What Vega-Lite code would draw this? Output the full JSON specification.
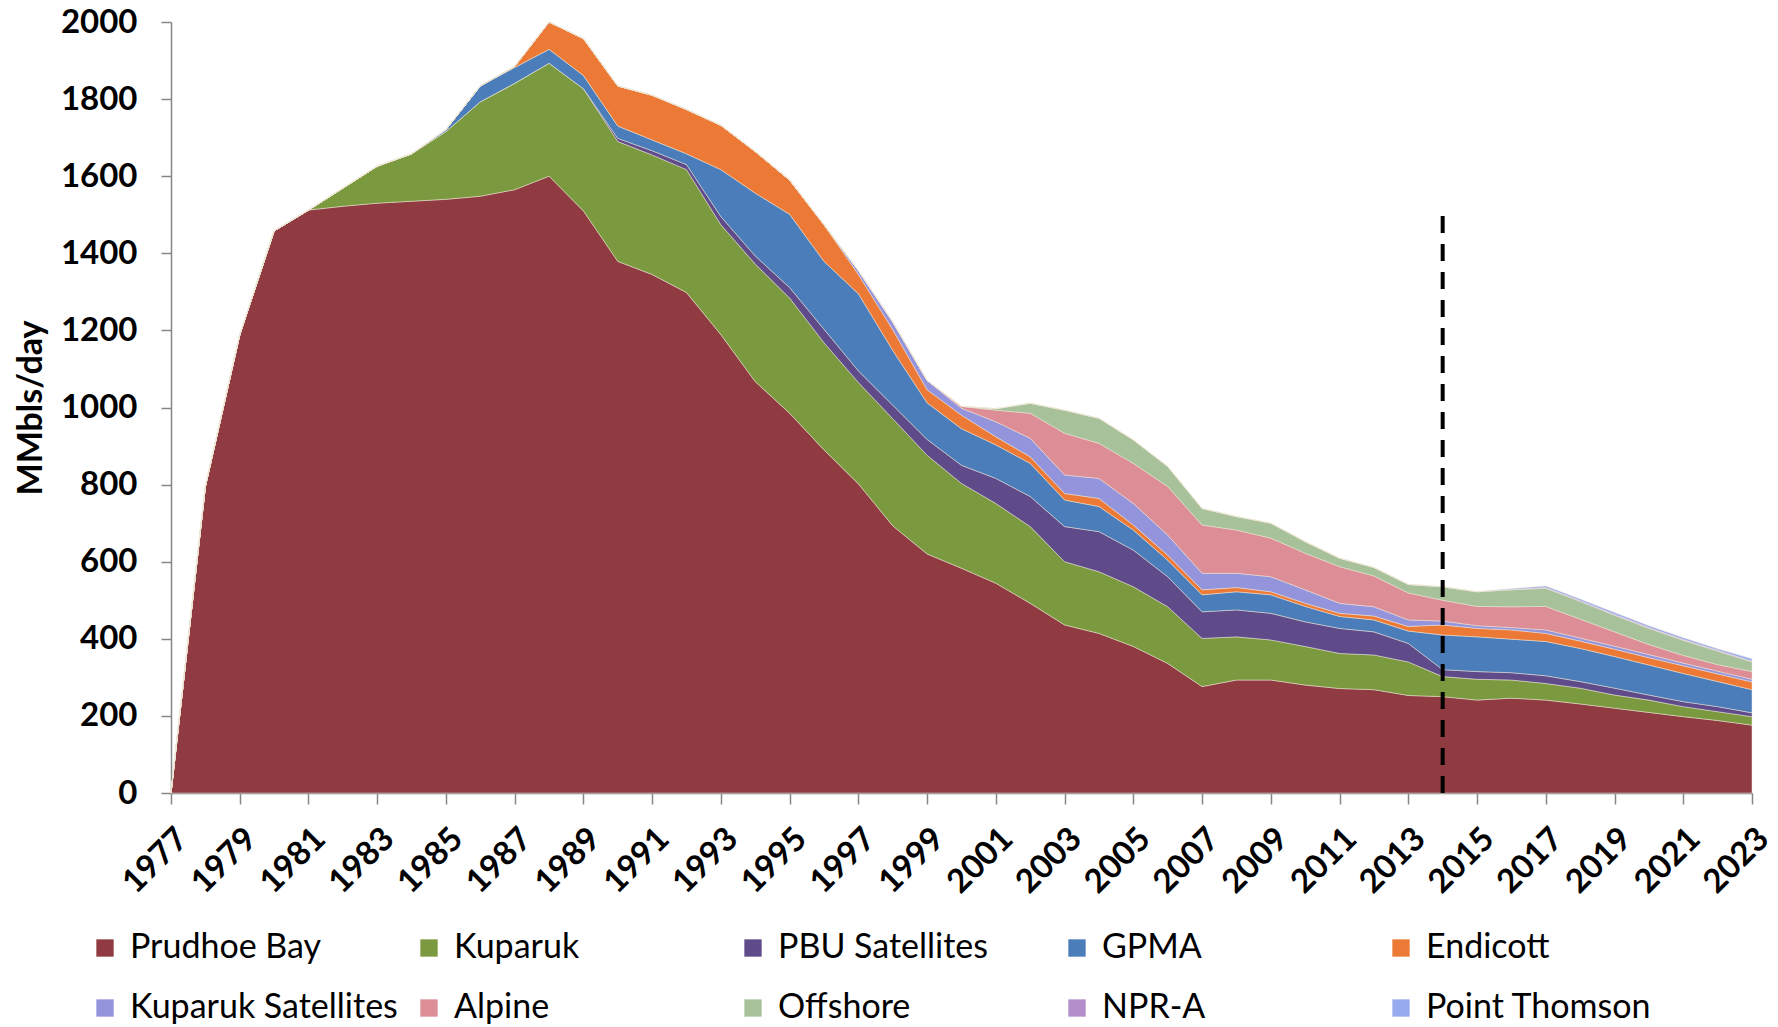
{
"$schema": "https://vega.github.io/schema/vega-lite/v6.json",
"width": 1581, "height": 771,
"autosize": {"type": "none"},
"padding": {"left": 171, "top": 22, "right": 26, "bottom": 234},
"background": "white",
"config": {"font": "Lato", "view": {"stroke": null}},
"datasets": {
"order": [{"field":"Prudhoe Bay","n":1},{"field":"Kuparuk","n":2},{"field":"PBU Satellites","n":3},{"field":"GPMA","n":4},{"field":"Endicott","n":5},{"field":"Kuparuk Satellites","n":6},{"field":"Alpine","n":7},{"field":"Offshore","n":8},{"field":"NPR-A","n":9},{"field":"Point Thomson","n":10}],
"prod": [
{"year":1977,"field":"Prudhoe Bay","bpd":0},{"year":1978,"field":"Prudhoe Bay","bpd":795},{"year":1979,"field":"Prudhoe Bay","bpd":1188},{"year":1980,"field":"Prudhoe Bay","bpd":1458},{"year":1981,"field":"Prudhoe Bay","bpd":1512},{"year":1982,"field":"Prudhoe Bay","bpd":1522},{"year":1983,"field":"Prudhoe Bay","bpd":1530},{"year":1984,"field":"Prudhoe Bay","bpd":1535},{"year":1985,"field":"Prudhoe Bay","bpd":1540},{"year":1986,"field":"Prudhoe Bay","bpd":1548},
{"year":1987,"field":"Prudhoe Bay","bpd":1565},{"year":1988,"field":"Prudhoe Bay","bpd":1600},{"year":1989,"field":"Prudhoe Bay","bpd":1510},{"year":1990,"field":"Prudhoe Bay","bpd":1379},{"year":1991,"field":"Prudhoe Bay","bpd":1345},{"year":1992,"field":"Prudhoe Bay","bpd":1298},{"year":1993,"field":"Prudhoe Bay","bpd":1189},{"year":1994,"field":"Prudhoe Bay","bpd":1067},{"year":1995,"field":"Prudhoe Bay","bpd":985},{"year":1996,"field":"Prudhoe Bay","bpd":890},
{"year":1997,"field":"Prudhoe Bay","bpd":802},{"year":1998,"field":"Prudhoe Bay","bpd":693},{"year":1999,"field":"Prudhoe Bay","bpd":620},{"year":2000,"field":"Prudhoe Bay","bpd":583},{"year":2001,"field":"Prudhoe Bay","bpd":544},{"year":2002,"field":"Prudhoe Bay","bpd":492},{"year":2003,"field":"Prudhoe Bay","bpd":436},{"year":2004,"field":"Prudhoe Bay","bpd":414},{"year":2005,"field":"Prudhoe Bay","bpd":380},{"year":2006,"field":"Prudhoe Bay","bpd":336},
{"year":2007,"field":"Prudhoe Bay","bpd":276},{"year":2008,"field":"Prudhoe Bay","bpd":293},{"year":2009,"field":"Prudhoe Bay","bpd":293},{"year":2010,"field":"Prudhoe Bay","bpd":280},{"year":2011,"field":"Prudhoe Bay","bpd":271},{"year":2012,"field":"Prudhoe Bay","bpd":268},{"year":2013,"field":"Prudhoe Bay","bpd":253},{"year":2014,"field":"Prudhoe Bay","bpd":250},{"year":2015,"field":"Prudhoe Bay","bpd":241},{"year":2016,"field":"Prudhoe Bay","bpd":246},
{"year":2017,"field":"Prudhoe Bay","bpd":241},{"year":2018,"field":"Prudhoe Bay","bpd":231},{"year":2019,"field":"Prudhoe Bay","bpd":220},{"year":2020,"field":"Prudhoe Bay","bpd":209},{"year":2021,"field":"Prudhoe Bay","bpd":198},{"year":2022,"field":"Prudhoe Bay","bpd":188},{"year":2023,"field":"Prudhoe Bay","bpd":176},

{"year":1977,"field":"Kuparuk","bpd":0},{"year":1978,"field":"Kuparuk","bpd":0},{"year":1979,"field":"Kuparuk","bpd":0},{"year":1980,"field":"Kuparuk","bpd":0},{"year":1981,"field":"Kuparuk","bpd":0},{"year":1982,"field":"Kuparuk","bpd":47},{"year":1983,"field":"Kuparuk","bpd":96},{"year":1984,"field":"Kuparuk","bpd":123},{"year":1985,"field":"Kuparuk","bpd":176},{"year":1986,"field":"Kuparuk","bpd":245},
{"year":1987,"field":"Kuparuk","bpd":276},{"year":1988,"field":"Kuparuk","bpd":293},{"year":1989,"field":"Kuparuk","bpd":317},{"year":1990,"field":"Kuparuk","bpd":311},{"year":1991,"field":"Kuparuk","bpd":310},{"year":1992,"field":"Kuparuk","bpd":319},{"year":1993,"field":"Kuparuk","bpd":285},{"year":1994,"field":"Kuparuk","bpd":305},{"year":1995,"field":"Kuparuk","bpd":299},{"year":1996,"field":"Kuparuk","bpd":278},
{"year":1997,"field":"Kuparuk","bpd":263},{"year":1998,"field":"Kuparuk","bpd":278},{"year":1999,"field":"Kuparuk","bpd":256},{"year":2000,"field":"Kuparuk","bpd":220},{"year":2001,"field":"Kuparuk","bpd":207},{"year":2002,"field":"Kuparuk","bpd":199},{"year":2003,"field":"Kuparuk","bpd":164},{"year":2004,"field":"Kuparuk","bpd":160},{"year":2005,"field":"Kuparuk","bpd":155},{"year":2006,"field":"Kuparuk","bpd":147},
{"year":2007,"field":"Kuparuk","bpd":125},{"year":2008,"field":"Kuparuk","bpd":112},{"year":2009,"field":"Kuparuk","bpd":104},{"year":2010,"field":"Kuparuk","bpd":100},{"year":2011,"field":"Kuparuk","bpd":91},{"year":2012,"field":"Kuparuk","bpd":90},{"year":2013,"field":"Kuparuk","bpd":87},{"year":2014,"field":"Kuparuk","bpd":52},{"year":2015,"field":"Kuparuk","bpd":54},{"year":2016,"field":"Kuparuk","bpd":47},
{"year":2017,"field":"Kuparuk","bpd":43},{"year":2018,"field":"Kuparuk","bpd":41},{"year":2019,"field":"Kuparuk","bpd":34},{"year":2020,"field":"Kuparuk","bpd":32},{"year":2021,"field":"Kuparuk","bpd":26},{"year":2022,"field":"Kuparuk","bpd":23},{"year":2023,"field":"Kuparuk","bpd":22},

{"year":1977,"field":"PBU Satellites","bpd":0},{"year":1978,"field":"PBU Satellites","bpd":0},{"year":1979,"field":"PBU Satellites","bpd":0},{"year":1980,"field":"PBU Satellites","bpd":0},{"year":1981,"field":"PBU Satellites","bpd":0},{"year":1982,"field":"PBU Satellites","bpd":0},{"year":1983,"field":"PBU Satellites","bpd":0},{"year":1984,"field":"PBU Satellites","bpd":0},{"year":1985,"field":"PBU Satellites","bpd":0},{"year":1986,"field":"PBU Satellites","bpd":0},
{"year":1987,"field":"PBU Satellites","bpd":0},{"year":1988,"field":"PBU Satellites","bpd":0},{"year":1989,"field":"PBU Satellites","bpd":0},{"year":1990,"field":"PBU Satellites","bpd":8},{"year":1991,"field":"PBU Satellites","bpd":11},{"year":1992,"field":"PBU Satellites","bpd":13},{"year":1993,"field":"PBU Satellites","bpd":21},{"year":1994,"field":"PBU Satellites","bpd":21},{"year":1995,"field":"PBU Satellites","bpd":27},{"year":1996,"field":"PBU Satellites","bpd":35},
{"year":1997,"field":"PBU Satellites","bpd":30},{"year":1998,"field":"PBU Satellites","bpd":35},{"year":1999,"field":"PBU Satellites","bpd":41},{"year":2000,"field":"PBU Satellites","bpd":47},{"year":2001,"field":"PBU Satellites","bpd":65},{"year":2002,"field":"PBU Satellites","bpd":78},{"year":2003,"field":"PBU Satellites","bpd":91},{"year":2004,"field":"PBU Satellites","bpd":104},{"year":2005,"field":"PBU Satellites","bpd":95},{"year":2006,"field":"PBU Satellites","bpd":78},
{"year":2007,"field":"PBU Satellites","bpd":69},{"year":2008,"field":"PBU Satellites","bpd":70},{"year":2009,"field":"PBU Satellites","bpd":69},{"year":2010,"field":"PBU Satellites","bpd":64},{"year":2011,"field":"PBU Satellites","bpd":65},{"year":2012,"field":"PBU Satellites","bpd":60},{"year":2013,"field":"PBU Satellites","bpd":48},{"year":2014,"field":"PBU Satellites","bpd":18},{"year":2015,"field":"PBU Satellites","bpd":20},{"year":2016,"field":"PBU Satellites","bpd":19},
{"year":2017,"field":"PBU Satellites","bpd":20},{"year":2018,"field":"PBU Satellites","bpd":17},{"year":2019,"field":"PBU Satellites","bpd":18},{"year":2020,"field":"PBU Satellites","bpd":13},{"year":2021,"field":"PBU Satellites","bpd":13},{"year":2022,"field":"PBU Satellites","bpd":13},{"year":2023,"field":"PBU Satellites","bpd":10},

{"year":1977,"field":"GPMA","bpd":0},{"year":1978,"field":"GPMA","bpd":0},{"year":1979,"field":"GPMA","bpd":0},{"year":1980,"field":"GPMA","bpd":0},{"year":1981,"field":"GPMA","bpd":0},{"year":1982,"field":"GPMA","bpd":0},{"year":1983,"field":"GPMA","bpd":0},{"year":1984,"field":"GPMA","bpd":0},{"year":1985,"field":"GPMA","bpd":5},{"year":1986,"field":"GPMA","bpd":41},
{"year":1987,"field":"GPMA","bpd":41},{"year":1988,"field":"GPMA","bpd":36},{"year":1989,"field":"GPMA","bpd":34},{"year":1990,"field":"GPMA","bpd":32},{"year":1991,"field":"GPMA","bpd":28},{"year":1992,"field":"GPMA","bpd":28},{"year":1993,"field":"GPMA","bpd":122},{"year":1994,"field":"GPMA","bpd":163},{"year":1995,"field":"GPMA","bpd":190},{"year":1996,"field":"GPMA","bpd":176},
{"year":1997,"field":"GPMA","bpd":200},{"year":1998,"field":"GPMA","bpd":142},{"year":1999,"field":"GPMA","bpd":95},{"year":2000,"field":"GPMA","bpd":95},{"year":2001,"field":"GPMA","bpd":87},{"year":2002,"field":"GPMA","bpd":86},{"year":2003,"field":"GPMA","bpd":69},{"year":2004,"field":"GPMA","bpd":65},{"year":2005,"field":"GPMA","bpd":52},{"year":2006,"field":"GPMA","bpd":43},
{"year":2007,"field":"GPMA","bpd":44},{"year":2008,"field":"GPMA","bpd":47},{"year":2009,"field":"GPMA","bpd":48},{"year":2010,"field":"GPMA","bpd":40},{"year":2011,"field":"GPMA","bpd":31},{"year":2012,"field":"GPMA","bpd":31},{"year":2013,"field":"GPMA","bpd":32},{"year":2014,"field":"GPMA","bpd":90},{"year":2015,"field":"GPMA","bpd":90},{"year":2016,"field":"GPMA","bpd":87},
{"year":2017,"field":"GPMA","bpd":89},{"year":2018,"field":"GPMA","bpd":86},{"year":2019,"field":"GPMA","bpd":82},{"year":2020,"field":"GPMA","bpd":78},{"year":2021,"field":"GPMA","bpd":73},{"year":2022,"field":"GPMA","bpd":65},{"year":2023,"field":"GPMA","bpd":60},

{"year":1977,"field":"Endicott","bpd":0},{"year":1978,"field":"Endicott","bpd":0},{"year":1979,"field":"Endicott","bpd":0},{"year":1980,"field":"Endicott","bpd":0},{"year":1981,"field":"Endicott","bpd":0},{"year":1982,"field":"Endicott","bpd":0},{"year":1983,"field":"Endicott","bpd":0},{"year":1984,"field":"Endicott","bpd":0},{"year":1985,"field":"Endicott","bpd":0},{"year":1986,"field":"Endicott","bpd":0},
{"year":1987,"field":"Endicott","bpd":3},{"year":1988,"field":"Endicott","bpd":71},{"year":1989,"field":"Endicott","bpd":96},{"year":1990,"field":"Endicott","bpd":104},{"year":1991,"field":"Endicott","bpd":116},{"year":1992,"field":"Endicott","bpd":115},{"year":1993,"field":"Endicott","bpd":115},{"year":1994,"field":"Endicott","bpd":108},{"year":1995,"field":"Endicott","bpd":89},{"year":1996,"field":"Endicott","bpd":95},
{"year":1997,"field":"Endicott","bpd":50},{"year":1998,"field":"Endicott","bpd":54},{"year":1999,"field":"Endicott","bpd":34},{"year":2000,"field":"Endicott","bpd":35},{"year":2001,"field":"Endicott","bpd":21},{"year":2002,"field":"Endicott","bpd":17},{"year":2003,"field":"Endicott","bpd":17},{"year":2004,"field":"Endicott","bpd":21},{"year":2005,"field":"Endicott","bpd":13},{"year":2006,"field":"Endicott","bpd":13},
{"year":2007,"field":"Endicott","bpd":13},{"year":2008,"field":"Endicott","bpd":11},{"year":2009,"field":"Endicott","bpd":8},{"year":2010,"field":"Endicott","bpd":8},{"year":2011,"field":"Endicott","bpd":8},{"year":2012,"field":"Endicott","bpd":10},{"year":2013,"field":"Endicott","bpd":12},{"year":2014,"field":"Endicott","bpd":26},{"year":2015,"field":"Endicott","bpd":22},{"year":2016,"field":"Endicott","bpd":24},
{"year":2017,"field":"Endicott","bpd":21},{"year":2018,"field":"Endicott","bpd":19},{"year":2019,"field":"Endicott","bpd":19},{"year":2020,"field":"Endicott","bpd":19},{"year":2021,"field":"Endicott","bpd":20},{"year":2022,"field":"Endicott","bpd":20},{"year":2023,"field":"Endicott","bpd":20},

{"year":1977,"field":"Kuparuk Satellites","bpd":0},{"year":1978,"field":"Kuparuk Satellites","bpd":0},{"year":1979,"field":"Kuparuk Satellites","bpd":0},{"year":1980,"field":"Kuparuk Satellites","bpd":0},{"year":1981,"field":"Kuparuk Satellites","bpd":0},{"year":1982,"field":"Kuparuk Satellites","bpd":0},{"year":1983,"field":"Kuparuk Satellites","bpd":0},{"year":1984,"field":"Kuparuk Satellites","bpd":0},{"year":1985,"field":"Kuparuk Satellites","bpd":0},{"year":1986,"field":"Kuparuk Satellites","bpd":0},
{"year":1987,"field":"Kuparuk Satellites","bpd":0},{"year":1988,"field":"Kuparuk Satellites","bpd":0},{"year":1989,"field":"Kuparuk Satellites","bpd":0},{"year":1990,"field":"Kuparuk Satellites","bpd":0},{"year":1991,"field":"Kuparuk Satellites","bpd":0},{"year":1992,"field":"Kuparuk Satellites","bpd":0},{"year":1993,"field":"Kuparuk Satellites","bpd":0},{"year":1994,"field":"Kuparuk Satellites","bpd":0},{"year":1995,"field":"Kuparuk Satellites","bpd":0},{"year":1996,"field":"Kuparuk Satellites","bpd":0},
{"year":1997,"field":"Kuparuk Satellites","bpd":10},{"year":1998,"field":"Kuparuk Satellites","bpd":20},{"year":1999,"field":"Kuparuk Satellites","bpd":24},{"year":2000,"field":"Kuparuk Satellites","bpd":18},{"year":2001,"field":"Kuparuk Satellites","bpd":39},{"year":2002,"field":"Kuparuk Satellites","bpd":48},{"year":2003,"field":"Kuparuk Satellites","bpd":48},{"year":2004,"field":"Kuparuk Satellites","bpd":52},{"year":2005,"field":"Kuparuk Satellites","bpd":56},{"year":2006,"field":"Kuparuk Satellites","bpd":52},
{"year":2007,"field":"Kuparuk Satellites","bpd":43},{"year":2008,"field":"Kuparuk Satellites","bpd":37},{"year":2009,"field":"Kuparuk Satellites","bpd":39},{"year":2010,"field":"Kuparuk Satellites","bpd":35},{"year":2011,"field":"Kuparuk Satellites","bpd":26},{"year":2012,"field":"Kuparuk Satellites","bpd":24},{"year":2013,"field":"Kuparuk Satellites","bpd":17},{"year":2014,"field":"Kuparuk Satellites","bpd":10},{"year":2015,"field":"Kuparuk Satellites","bpd":7},{"year":2016,"field":"Kuparuk Satellites","bpd":6},
{"year":2017,"field":"Kuparuk Satellites","bpd":9},{"year":2018,"field":"Kuparuk Satellites","bpd":8},{"year":2019,"field":"Kuparuk Satellites","bpd":8},{"year":2020,"field":"Kuparuk Satellites","bpd":8},{"year":2021,"field":"Kuparuk Satellites","bpd":7},{"year":2022,"field":"Kuparuk Satellites","bpd":7},{"year":2023,"field":"Kuparuk Satellites","bpd":7},

{"year":1977,"field":"Alpine","bpd":0},{"year":1978,"field":"Alpine","bpd":0},{"year":1979,"field":"Alpine","bpd":0},{"year":1980,"field":"Alpine","bpd":0},{"year":1981,"field":"Alpine","bpd":0},{"year":1982,"field":"Alpine","bpd":0},{"year":1983,"field":"Alpine","bpd":0},{"year":1984,"field":"Alpine","bpd":0},{"year":1985,"field":"Alpine","bpd":0},{"year":1986,"field":"Alpine","bpd":0},
{"year":1987,"field":"Alpine","bpd":0},{"year":1988,"field":"Alpine","bpd":0},{"year":1989,"field":"Alpine","bpd":0},{"year":1990,"field":"Alpine","bpd":0},{"year":1991,"field":"Alpine","bpd":0},{"year":1992,"field":"Alpine","bpd":0},{"year":1993,"field":"Alpine","bpd":0},{"year":1994,"field":"Alpine","bpd":0},{"year":1995,"field":"Alpine","bpd":0},{"year":1996,"field":"Alpine","bpd":0},
{"year":1997,"field":"Alpine","bpd":0},{"year":1998,"field":"Alpine","bpd":0},{"year":1999,"field":"Alpine","bpd":0},{"year":2000,"field":"Alpine","bpd":5},{"year":2001,"field":"Alpine","bpd":30},{"year":2002,"field":"Alpine","bpd":65},{"year":2003,"field":"Alpine","bpd":108},{"year":2004,"field":"Alpine","bpd":91},{"year":2005,"field":"Alpine","bpd":104},{"year":2006,"field":"Alpine","bpd":126},
{"year":2007,"field":"Alpine","bpd":125},{"year":2008,"field":"Alpine","bpd":112},{"year":2009,"field":"Alpine","bpd":100},{"year":2010,"field":"Alpine","bpd":95},{"year":2011,"field":"Alpine","bpd":95},{"year":2012,"field":"Alpine","bpd":80},{"year":2013,"field":"Alpine","bpd":70},{"year":2014,"field":"Alpine","bpd":54},{"year":2015,"field":"Alpine","bpd":50},{"year":2016,"field":"Alpine","bpd":54},
{"year":2017,"field":"Alpine","bpd":61},{"year":2018,"field":"Alpine","bpd":49},{"year":2019,"field":"Alpine","bpd":37},{"year":2020,"field":"Alpine","bpd":26},{"year":2021,"field":"Alpine","bpd":20},{"year":2022,"field":"Alpine","bpd":17},{"year":2023,"field":"Alpine","bpd":20},

{"year":1977,"field":"Offshore","bpd":0},{"year":1978,"field":"Offshore","bpd":0},{"year":1979,"field":"Offshore","bpd":0},{"year":1980,"field":"Offshore","bpd":0},{"year":1981,"field":"Offshore","bpd":0},{"year":1982,"field":"Offshore","bpd":0},{"year":1983,"field":"Offshore","bpd":0},{"year":1984,"field":"Offshore","bpd":0},{"year":1985,"field":"Offshore","bpd":0},{"year":1986,"field":"Offshore","bpd":0},
{"year":1987,"field":"Offshore","bpd":0},{"year":1988,"field":"Offshore","bpd":0},{"year":1989,"field":"Offshore","bpd":0},{"year":1990,"field":"Offshore","bpd":0},{"year":1991,"field":"Offshore","bpd":0},{"year":1992,"field":"Offshore","bpd":0},{"year":1993,"field":"Offshore","bpd":0},{"year":1994,"field":"Offshore","bpd":0},{"year":1995,"field":"Offshore","bpd":0},{"year":1996,"field":"Offshore","bpd":0},
{"year":1997,"field":"Offshore","bpd":0},{"year":1998,"field":"Offshore","bpd":0},{"year":1999,"field":"Offshore","bpd":0},{"year":2000,"field":"Offshore","bpd":0},{"year":2001,"field":"Offshore","bpd":4},{"year":2002,"field":"Offshore","bpd":26},{"year":2003,"field":"Offshore","bpd":60},{"year":2004,"field":"Offshore","bpd":65},{"year":2005,"field":"Offshore","bpd":61},{"year":2006,"field":"Offshore","bpd":52},
{"year":2007,"field":"Offshore","bpd":43},{"year":2008,"field":"Offshore","bpd":35},{"year":2009,"field":"Offshore","bpd":39},{"year":2010,"field":"Offshore","bpd":30},{"year":2011,"field":"Offshore","bpd":22},{"year":2012,"field":"Offshore","bpd":22},{"year":2013,"field":"Offshore","bpd":22},{"year":2014,"field":"Offshore","bpd":35},{"year":2015,"field":"Offshore","bpd":38},{"year":2016,"field":"Offshore","bpd":44},
{"year":2017,"field":"Offshore","bpd":47},{"year":2018,"field":"Offshore","bpd":46},{"year":2019,"field":"Offshore","bpd":43},{"year":2020,"field":"Offshore","bpd":42},{"year":2021,"field":"Offshore","bpd":39},{"year":2022,"field":"Offshore","bpd":35},{"year":2023,"field":"Offshore","bpd":25},

{"year":1977,"field":"NPR-A","bpd":0},{"year":1978,"field":"NPR-A","bpd":0},{"year":1979,"field":"NPR-A","bpd":0},{"year":1980,"field":"NPR-A","bpd":0},{"year":1981,"field":"NPR-A","bpd":0},{"year":1982,"field":"NPR-A","bpd":0},{"year":1983,"field":"NPR-A","bpd":0},{"year":1984,"field":"NPR-A","bpd":0},{"year":1985,"field":"NPR-A","bpd":0},{"year":1986,"field":"NPR-A","bpd":0},
{"year":1987,"field":"NPR-A","bpd":0},{"year":1988,"field":"NPR-A","bpd":0},{"year":1989,"field":"NPR-A","bpd":0},{"year":1990,"field":"NPR-A","bpd":0},{"year":1991,"field":"NPR-A","bpd":0},{"year":1992,"field":"NPR-A","bpd":0},{"year":1993,"field":"NPR-A","bpd":0},{"year":1994,"field":"NPR-A","bpd":0},{"year":1995,"field":"NPR-A","bpd":0},{"year":1996,"field":"NPR-A","bpd":0},
{"year":1997,"field":"NPR-A","bpd":0},{"year":1998,"field":"NPR-A","bpd":0},{"year":1999,"field":"NPR-A","bpd":0},{"year":2000,"field":"NPR-A","bpd":0},{"year":2001,"field":"NPR-A","bpd":0},{"year":2002,"field":"NPR-A","bpd":0},{"year":2003,"field":"NPR-A","bpd":0},{"year":2004,"field":"NPR-A","bpd":0},{"year":2005,"field":"NPR-A","bpd":0},{"year":2006,"field":"NPR-A","bpd":0},
{"year":2007,"field":"NPR-A","bpd":0},{"year":2008,"field":"NPR-A","bpd":0},{"year":2009,"field":"NPR-A","bpd":0},{"year":2010,"field":"NPR-A","bpd":0},{"year":2011,"field":"NPR-A","bpd":0},{"year":2012,"field":"NPR-A","bpd":0},{"year":2013,"field":"NPR-A","bpd":0},{"year":2014,"field":"NPR-A","bpd":0},{"year":2015,"field":"NPR-A","bpd":0},{"year":2016,"field":"NPR-A","bpd":1},
{"year":2017,"field":"NPR-A","bpd":2},{"year":2018,"field":"NPR-A","bpd":2},{"year":2019,"field":"NPR-A","bpd":2},{"year":2020,"field":"NPR-A","bpd":2},{"year":2021,"field":"NPR-A","bpd":2},{"year":2022,"field":"NPR-A","bpd":2},{"year":2023,"field":"NPR-A","bpd":2},

{"year":1977,"field":"Point Thomson","bpd":0},{"year":1978,"field":"Point Thomson","bpd":0},{"year":1979,"field":"Point Thomson","bpd":0},{"year":1980,"field":"Point Thomson","bpd":0},{"year":1981,"field":"Point Thomson","bpd":0},{"year":1982,"field":"Point Thomson","bpd":0},{"year":1983,"field":"Point Thomson","bpd":0},{"year":1984,"field":"Point Thomson","bpd":0},{"year":1985,"field":"Point Thomson","bpd":0},{"year":1986,"field":"Point Thomson","bpd":0},
{"year":1987,"field":"Point Thomson","bpd":0},{"year":1988,"field":"Point Thomson","bpd":0},{"year":1989,"field":"Point Thomson","bpd":0},{"year":1990,"field":"Point Thomson","bpd":0},{"year":1991,"field":"Point Thomson","bpd":0},{"year":1992,"field":"Point Thomson","bpd":0},{"year":1993,"field":"Point Thomson","bpd":0},{"year":1994,"field":"Point Thomson","bpd":0},{"year":1995,"field":"Point Thomson","bpd":0},{"year":1996,"field":"Point Thomson","bpd":0},
{"year":1997,"field":"Point Thomson","bpd":0},{"year":1998,"field":"Point Thomson","bpd":0},{"year":1999,"field":"Point Thomson","bpd":0},{"year":2000,"field":"Point Thomson","bpd":0},{"year":2001,"field":"Point Thomson","bpd":0},{"year":2002,"field":"Point Thomson","bpd":0},{"year":2003,"field":"Point Thomson","bpd":0},{"year":2004,"field":"Point Thomson","bpd":0},{"year":2005,"field":"Point Thomson","bpd":0},{"year":2006,"field":"Point Thomson","bpd":0},
{"year":2007,"field":"Point Thomson","bpd":0},{"year":2008,"field":"Point Thomson","bpd":0},{"year":2009,"field":"Point Thomson","bpd":0},{"year":2010,"field":"Point Thomson","bpd":0},{"year":2011,"field":"Point Thomson","bpd":0},{"year":2012,"field":"Point Thomson","bpd":0},{"year":2013,"field":"Point Thomson","bpd":0},{"year":2014,"field":"Point Thomson","bpd":0},{"year":2015,"field":"Point Thomson","bpd":0},{"year":2016,"field":"Point Thomson","bpd":2},
{"year":2017,"field":"Point Thomson","bpd":4},{"year":2018,"field":"Point Thomson","bpd":4},{"year":2019,"field":"Point Thomson","bpd":5},{"year":2020,"field":"Point Thomson","bpd":5},{"year":2021,"field":"Point Thomson","bpd":5},{"year":2022,"field":"Point Thomson","bpd":4},{"year":2023,"field":"Point Thomson","bpd":6}
]
},
"layer": [
{
"data": {"name": "prod"},
"transform": [{"lookup": "field", "from": {"data": {"name": "order"}, "key": "field", "fields": ["n"]}}],
"mark": {"type": "area", "interpolate": "linear", "stroke": "#efe6d6", "strokeWidth": 0.7, "strokeOpacity": 0.7},
"encoding": {
"x": {"field": "year", "type": "quantitative", "title": null,
 "scale": {"domain": [1977, 2023], "nice": false, "zero": false},
 "axis": {"values": [1977,1978,1979,1980,1981,1982,1983,1984,1985,1986,1987,1988,1989,1990,1991,1992,1993,1994,1995,1996,1997,1998,1999,2000,2001,2002,2003,2004,2005,2006,2007,2008,2009,2010,2011,2012,2013,2014,2015,2016,2017,2018,2019,2020,2021,2022,2023],
  "labelExpr": "datum.value % 2 == 1 ? '' + datum.value : ''",
  "labelAngle": -45, "labelAlign": "right", "labelBaseline": "top",
  "labelFontSize": 33, "labelFontWeight": "bold", "labelColor": "black", "labelFont": "Lato",
  "labelPadding": 18, "labelOverlap": false, "labelFlush": false, "labelBound": false,
  "tickSize": 11, "tickColor": "#868686", "tickWidth": 1.5, "domainColor": "#868686", "domainWidth": 1.5, "grid": false}},
"y": {"field": "bpd", "type": "quantitative", "stack": "zero", "title": "MMbls/day",
 "scale": {"domain": [0, 2000], "nice": false},
 "axis": {"values": [0,200,400,600,800,1000,1200,1400,1600,1800,2000], "format": "d",
  "labelFontSize": 33, "labelFontWeight": "bold", "labelColor": "black", "labelFont": "Lato", "labelPadding": 24,
  "tickSize": 10, "tickColor": "#868686", "tickWidth": 1.5, "domainColor": "#868686", "domainWidth": 1.5, "grid": false,
  "titleFontSize": 34, "titleFontWeight": "bold", "titleColor": "black", "titleFont": "Lato", "titlePadding": 12}},
"color": {"field": "field", "type": "nominal",
 "scale": {"domain": ["Prudhoe Bay","Kuparuk","PBU Satellites","GPMA","Endicott","Kuparuk Satellites","Alpine","Offshore","NPR-A","Point Thomson"],
  "range": ["#903a41","#7b9a40","#5f4a8a","#4a7db9","#ec7a36","#9494dc","#dc8d96","#a7c29a","#b48ecb","#97aaf0"]},
 "legend": {"orient": "none", "legendX": -83, "legendY": 909, "direction": "horizontal", "columns": 5, "title": null,
  "symbolType": "square", "symbolSize": 300, "symbolStrokeWidth": 0, "symbolOpacity": 1,
  "labelFontSize": 34, "labelColor": "black", "labelFont": "Lato", "labelOffset": 8, "labelLimit": 500,
  "gridAlign": "all", "columnPadding": 14, "rowPadding": 26, "padding": 0}},
"order": {"field": "n", "type": "quantitative", "sort": "ascending"}
}
},
{
"data": {"values": [{"year": 2014, "lo": 0, "hi": 1500}]},
"mark": {"type": "rule", "color": "black", "strokeWidth": 4, "strokeDash": [17, 11]},
"encoding": {
"x": {"field": "year", "type": "quantitative"},
"y": {"field": "lo", "type": "quantitative"},
"y2": {"field": "hi"}
}
}
]
}
